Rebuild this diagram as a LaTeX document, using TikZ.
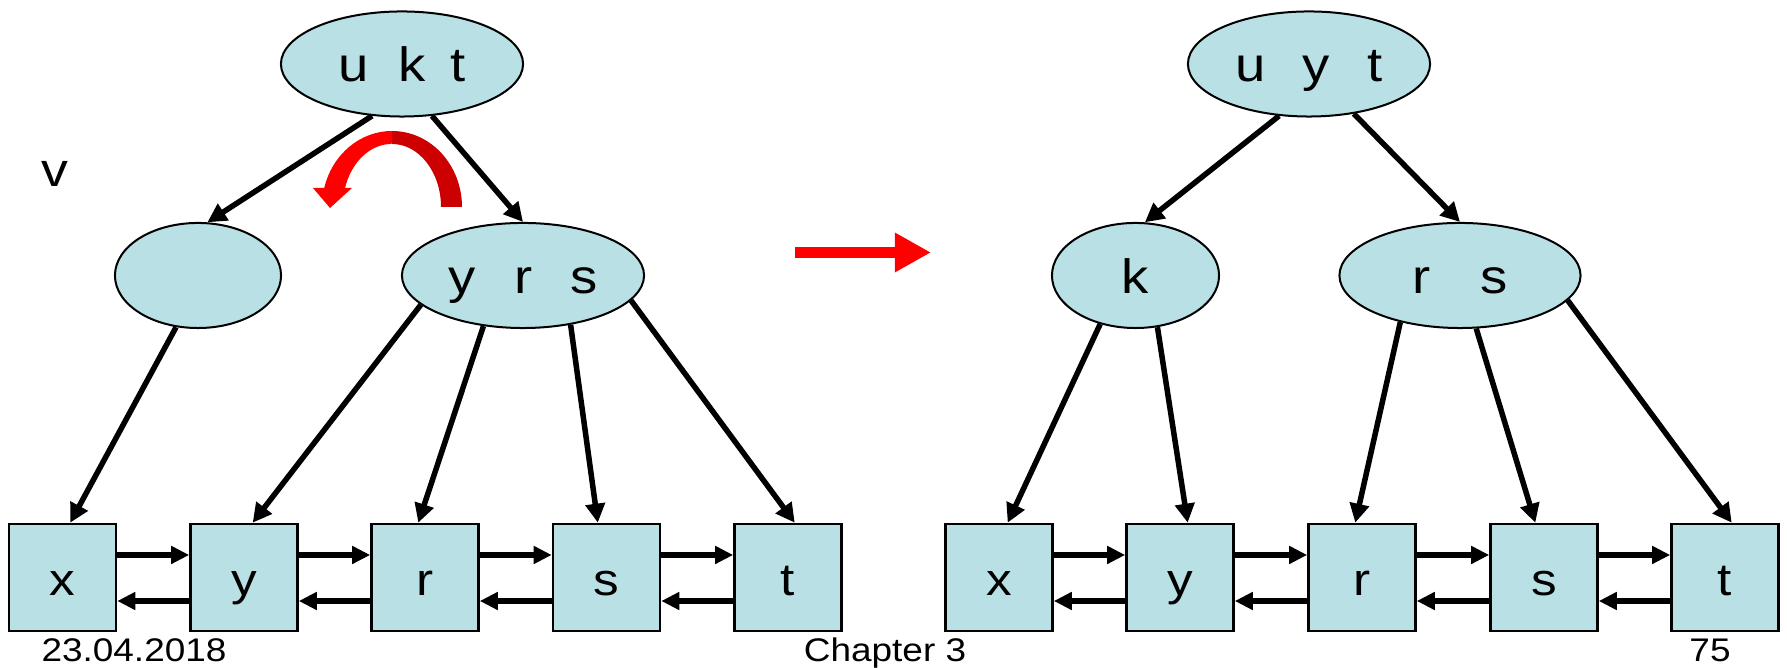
\documentclass[tikz,border=0pt]{standalone}
\usepackage{fontspec}
\setmainfont{Liberation Sans}[FakeStretch=1.13]
\usetikzlibrary{shapes.geometric, arrows.meta}

\definecolor{keyfill}{RGB}{185,224,228}
\definecolor{darkred}{RGB}{204,0,0}

\begin{document}
\begin{tikzpicture}[
    x=0.01cm, y=-0.01cm,
    keyell/.style={draw, ellipse, line width=0.2mm, fill=keyfill, minimum height=1.05cm, inner sep=0pt, font=\fontsize{13.7}{16}\selectfont, text height=10.2pt, text depth=0pt},
    leaf/.style={draw, rectangle, line width=0.25mm, fill=keyfill, minimum size=1.07cm, inner sep=0pt, font=\fontsize{12.9}{15}\selectfont, text height=10.5pt, text depth=0pt},
    edge/.style={line width=0.55mm, -{Triangle[length=1.9mm, width=1.9mm]}},
    link/.style={line width=0.55mm, -{Triangle[length=1.8mm, width=1.7mm]}},
    footer/.style={anchor=base, font=\fontsize{9.3}{11}\selectfont}
  ]

  \useasboundingbox (0,0) rectangle (1787,668);

  % ── 左の木 ──
  \node[keyell, minimum width=2.42cm] (lroot) at (402,64) {u\hspace{0.62em}k\hspace{0.5em}t};
  \node[keyell, minimum width=1.66cm] (lc) at (198,275.5) {};
  \node[keyell, minimum width=2.42cm] (lrs) at (523,275.5) {y\hspace{0.8em}r\hspace{0.78em}s};
  \node[anchor=base, font=\fontsize{13.5}{16}\selectfont] (vlab) at (55,187) {v};

  % 葉
  \node[leaf] (lx) at (62.5,577.5) {x};
  \node[leaf] (ly) at (244,577.5) {y};
  \node[leaf] (lr) at (425,577.5) {r};
  \node[leaf] (ls) at (606.5,577.5) {s};
  \node[leaf] (lt) at (788,577.5) {t};

  % 木の枝
  \draw[edge] (lroot.240) -- (lc.80);
  \draw[edge] (lroot.300) -- (lrs.north);
  \draw[edge] (lc.247) -- (lx.82);
  \draw[edge] (lrs.196) -- (ly.81);
  \draw[edge] (lrs.232) -- (lr.97);
  \draw[edge] (lrs.314) -- (ls.99);
  \draw[edge] (lrs.347) -- (lt.83);

  % 葉のリスト
  \draw[link] ([yshift=2.25mm]lx.east) -- ([yshift=2.25mm]ly.west);
  \draw[link] ([yshift=-2.35mm]ly.west) -- ([yshift=-2.35mm]lx.east);
  \draw[link] ([yshift=2.25mm]ly.east) -- ([yshift=2.25mm]lr.west);
  \draw[link] ([yshift=-2.35mm]lr.west) -- ([yshift=-2.35mm]ly.east);
  \draw[link] ([yshift=2.25mm]lr.east) -- ([yshift=2.25mm]ls.west);
  \draw[link] ([yshift=-2.35mm]ls.west) -- ([yshift=-2.35mm]lr.east);
  \draw[link] ([yshift=2.25mm]ls.east) -- ([yshift=2.25mm]lt.west);
  \draw[link] ([yshift=-2.35mm]lt.west) -- ([yshift=-2.35mm]ls.east);

  % 回転の矢印
  \fill[darkred] (392,131) arc[start angle=270, end angle=360, x radius=70, y radius=76]
    -- (441,207) arc[start angle=360, end angle=270, x radius=49, y radius=63] -- cycle;
  \fill[red] (392,131) arc[start angle=270, end angle=194.5, x radius=70, y radius=76]
    -- (313,188) -- (330,208) -- (352,188) -- (345,188)
    arc[start angle=197.5, end angle=270, x radius=49, y radius=63] -- cycle;

  % ── 変換の矢印 ──
  \coordinate (rafrom) at (795,252.5);
  \coordinate (rato) at (931,252.5);
  \draw[red, line width=1.1mm, -{Triangle[length=3.6mm, width=3.7mm]}] (rafrom) -- (rato);

  % ── 右の木 ──
  \node[keyell, minimum width=2.42cm] (rroot) at (1309,64) {u\hspace{0.76em}y\hspace{0.79em}t};
  \node[keyell, minimum width=1.67cm] (rk) at (1135.5,275.5) {k};
  \node[keyell, minimum width=2.41cm] (rrs) at (1460,275.5) {r\hspace{1.05em}s};

  % 葉
  \node[leaf] (rx) at (999,577.5) {x};
  \node[leaf] (ry) at (1180,577.5) {y};
  \node[leaf] (rr) at (1362,577.5) {r};
  \node[leaf] (rs) at (1544,577.5) {s};
  \node[leaf] (rt) at (1725,577.5) {t};

  % 木の枝
  \draw[edge] (rroot.240) -- (rk.80);
  \draw[edge] (rroot.312) -- (rrs.north);
  \draw[edge] (rk.234) -- (rx.81);
  \draw[edge] (rk.293) -- (ry.82);
  \draw[edge] (rrs.218) -- (rr.97);
  \draw[edge] (rrs.287) -- (rs.99);
  \draw[edge] (rrs.347) -- (rt.83);

  % 葉のリスト
  \draw[link] ([yshift=2.25mm]rx.east) -- ([yshift=2.25mm]ry.west);
  \draw[link] ([yshift=-2.35mm]ry.west) -- ([yshift=-2.35mm]rx.east);
  \draw[link] ([yshift=2.25mm]ry.east) -- ([yshift=2.25mm]rr.west);
  \draw[link] ([yshift=-2.35mm]rr.west) -- ([yshift=-2.35mm]ry.east);
  \draw[link] ([yshift=2.25mm]rr.east) -- ([yshift=2.25mm]rs.west);
  \draw[link] ([yshift=-2.35mm]rs.west) -- ([yshift=-2.35mm]rr.east);
  \draw[link] ([yshift=2.25mm]rs.east) -- ([yshift=2.25mm]rt.west);
  \draw[link] ([yshift=-2.35mm]rt.west) -- ([yshift=-2.35mm]rs.east);

  % フッター
  \node[footer] (date) at (134,662) {23.04.2018};
  \node[footer] (chap) at (885,662) {Chapter 3};
  \node[footer] (page) at (1710,662) {75};

\end{tikzpicture}
\end{document}
